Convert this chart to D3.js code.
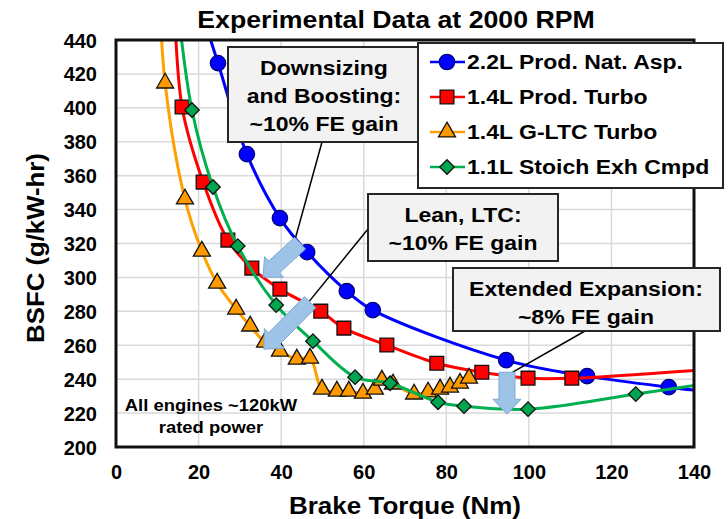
<!DOCTYPE html>
<html>
<head>
<meta charset="utf-8">
<script src="https://cdn.jsdelivr.net/npm/d3@7"></script>
<style>
    body { margin: 0; background: #fff; }
    text { font-family: "Liberation Sans", Arial, sans-serif; font-weight: bold; fill: #000; }
</style>
</head>
<body>
<div id="chart-area"></div>
<script>

// series (torque Nm, BSFC g/kW-hr)
// first / last points of some series sit outside the frame, they only steer the clipped line
const naTorque   = [19, 24.7, 31.7, 39.7, 46.3, 55.9, 62.2, 94.5, 114.1, 133.9, 150];
const naBsfc     = [470, 426.4, 372.7, 335, 314.9, 291.9, 280.7, 251.2, 241.8, 235.3, 231];

const turboTorque = [14, 16.0, 21.1, 27.1, 32.9, 39.7, 49.6, 55.2, 65.6, 77.7, 88.6, 99.8, 110.4, 150];
const turboBsfc   = [470, 400.5, 356.2, 322, 305.5, 293.1, 280.1, 270.1, 260.1, 249.4, 244.1, 240.6, 240.6, 247];

const ltcTorque = [10.5, 11.9, 16.7, 20.8, 24.5, 29.1, 32.5, 36.1, 39.7, 43.8, 47.0, 49.9, 53.5, 56.4, 59.8, 62.7, 64.4, 67.1, 72.2, 75.6, 78.5, 80.9, 83.3, 85.5];
const ltcBsfc   = [470, 414.6, 346.2, 315.5, 296.6, 281.3, 271.3, 261.8, 256.5, 251.8, 252.4, 234.1, 232.9, 232.9, 231.7, 234.1, 239.4, 237.1, 231.2, 232.4, 234.1, 235.3, 237.6, 240.6];

const stoichTorque = [14.5, 18.4, 23.5, 29.5, 38.8, 47.7, 57.9, 66.4, 78.0, 84.3, 99.8, 125.9, 150];
const stoichBsfc   = [470, 398.7, 353.3, 318.5, 283.7, 262.4, 241.2, 237.6, 226.4, 224.1, 222.3, 231.2, 240];

const seriesNames = ["2.2L Prod. Nat. Asp.", "1.4L Prod. Turbo", "1.4L G-LTC Turbo", "1.1L Stoich Exh Cmpd"];

const xTicks = [0, 20, 40, 60, 80, 100, 120, 140];
const yTicks = [200, 220, 240, 260, 280, 300, 320, 340, 360, 380, 400, 420, 440];

// callout arrows, in data units: [tailX, tailY, tipX, tipY]
const arrowSpots = [[44.6, 320.2, 35.6, 300.2], [47.0, 285.4, 35.8, 257.7], [94.7, 244.1, 94.7, 219.3]];


// the source picture is a bit wider than the font, so widen text a little
function widen(sel, factor) {
    sel.each(function() {
        let w = this.getComputedTextLength();
        d3.select(this)
            .attr("textLength", w * factor)
            .attr("lengthAdjust", "spacingAndGlyphs");
    });
}


class BsfcChart {

    constructor(parentElement) {
        this.parentElement = parentElement;
        this.initVis();
    }

    initVis() {
        let vis = this;

        vis.width = 728;
        vis.height = 519;
        vis.plot = {left: 116, right: 694, top: 40, bottom: 447};

        vis.svg = d3.select("#" + vis.parentElement).append("svg")
            .attr("width", vis.width)
            .attr("height", vis.height);

        vis.x = d3.scaleLinear().domain([0, 140]).range([vis.plot.left, vis.plot.right]);
        vis.y = d3.scaleLinear().domain([200, 440]).range([vis.plot.bottom, vis.plot.top]);

        vis.svg.append("clipPath").attr("id", "plot-clip")
            .append("rect")
            .attr("x", vis.plot.left)
            .attr("y", vis.plot.top)
            .attr("width", vis.plot.right - vis.plot.left)
            .attr("height", vis.plot.bottom - vis.plot.top);

        // grid
        let grid = vis.svg.append("g").attr("class", "grid");
        grid.selectAll(".vgrid").data(xTicks.slice(1, -1)).enter().append("line")
            .attr("x1", d => vis.x(d)).attr("x2", d => vis.x(d))
            .attr("y1", vis.plot.top).attr("y2", vis.plot.bottom)
            .attr("stroke", "#d9d9d9").attr("stroke-width", 1.5);
        grid.selectAll(".hgrid").data(yTicks.slice(1, -1)).enter().append("line")
            .attr("y1", d => vis.y(d)).attr("y2", d => vis.y(d))
            .attr("x1", vis.plot.left).attr("x2", vis.plot.right)
            .attr("stroke", "#d9d9d9").attr("stroke-width", 1.5);

        // axes (labels only, Excel style)
        vis.svg.append("g")
            .attr("transform", "translate(0," + (vis.plot.bottom + 32) + ")")
            .call(d3.axisBottom(vis.x).tickValues(xTicks).tickSize(0).tickPadding(0))
            .call(g => g.select(".domain").remove())
            .selectAll("text").attr("font-size", 20).attr("dy", 0)
            .style("font-family", "'Liberation Sans', Arial, sans-serif").style("font-weight", "bold");

        vis.svg.append("g")
            .attr("transform", "translate(" + (vis.plot.left - 19) + ",0)")
            .call(d3.axisLeft(vis.y).tickValues(yTicks).tickSize(0).tickPadding(0))
            .call(g => g.select(".domain").remove())
            .selectAll("text").attr("font-size", 20).attr("dy", "0.35em")
            .style("font-family", "'Liberation Sans', Arial, sans-serif").style("font-weight", "bold");

        vis.svg.append("text")
            .attr("x", 396).attr("y", 28)
            .attr("text-anchor", "middle").attr("font-size", 23)
            .text("Experimental  Data at 2000 RPM")
            .call(widen, 1.16);

        vis.svg.append("text")
            .attr("x", (vis.plot.left + vis.plot.right) / 2).attr("y", 514)
            .attr("text-anchor", "middle").attr("font-size", 23)
            .text("Brake Torque (Nm)")
            .call(widen, 1.13);

        vis.svg.append("text")
            .attr("transform", "translate(44,248) rotate(-90)")
            .attr("text-anchor", "middle").attr("font-size", 23)
            .text("BSFC (g/kW-hr)")
            .call(widen, 1.12);

        vis.svg.append("g")
            .attr("font-size", 16)
            .selectAll("text").data(["All engines ~120kW", "rated power"]).enter().append("text")
            .attr("x", 211).attr("y", (d, i) => 411 + i * 22)
            .attr("text-anchor", "middle")
            .text(d => d)
            .call(widen, 1.15);

        vis.chartGroup = vis.svg.append("g").attr("clip-path", "url(#plot-clip)");

        vis.line = d3.line()
            .x(d => vis.x(d.x))
            .y(d => vis.y(d.y))
            .curve(d3.curveCatmullRom.alpha(0.5));

        vis.wrangleData();
    }

    wrangleData() {
        let vis = this;

        let zipUp = (xs, ys) => xs.map((v, i) => ({x: v, y: ys[i]}));

        vis.displayData = [
            {name: seriesNames[0], color: "#0000ff", fill: "#0000ff", shape: "circle", values: zipUp(naTorque, naBsfc)},
            {name: seriesNames[1], color: "#ff0000", fill: "#ff0000", shape: "square", values: zipUp(turboTorque, turboBsfc)},
            {name: seriesNames[2], color: "#ffa000", fill: "#ff9900", shape: "triangle", values: zipUp(ltcTorque, ltcBsfc)},
            {name: seriesNames[3], color: "#00b050", fill: "#00a54f", shape: "diamond", values: zipUp(stoichTorque, stoichBsfc)}
        ];

        vis.updateVis();
    }

    markerPath(shape) {
        if (shape === "circle") return d3.symbol(d3.symbolCircle, 185)();
        if (shape === "square") return d3.symbol(d3.symbolSquare, 190)();
        if (shape === "triangle") return d3.symbol(d3.symbolTriangle, 125)();
        return d3.symbol(d3.symbolSquare, 105)();
    }

    updateVis() {
        let vis = this;

        let series = vis.chartGroup.selectAll(".series")
            .data(vis.displayData)
            .enter().append("g")
            .attr("class", "series");

        series.append("path")
            .attr("d", d => vis.line(d.values))
            .attr("fill", "none")
            .attr("stroke", d => d.color)
            .attr("stroke-width", 3);

        series.each(function(s) {
            d3.select(this).selectAll(".mark")
                .data(s.values)
                .enter().append("path")
                .attr("class", "mark")
                .attr("d", vis.markerPath(s.shape))
                .attr("transform", d => "translate(" + vis.x(d.x) + "," + vis.y(d.y) + ")" + (s.shape === "diamond" ? " rotate(45)" : ""))
                .attr("fill", s.fill)
                .attr("stroke", s.shape === "circle" ? "#00007a" : "#111")
                .attr("stroke-width", 1.3);
        });

        // frame
        vis.svg.append("rect")
            .attr("x", vis.plot.left).attr("y", vis.plot.top)
            .attr("width", vis.plot.right - vis.plot.left)
            .attr("height", vis.plot.bottom - vis.plot.top)
            .attr("fill", "none").attr("stroke", "#111").attr("stroke-width", 3);

        vis.drawCallouts();
        vis.drawLegend();
    }

    drawCallouts() {
        let vis = this;

        let leaders = [[322, 142, vis.x(43.1), vis.y(320)], [368, 229, vis.x(46.5), vis.y(285)], [585, 331, vis.x(96.1), vis.y(244.1)]];
        vis.svg.selectAll(".leader").data(leaders).enter().append("line")
            .attr("class", "leader")
            .attr("x1", d => d[0]).attr("y1", d => d[1])
            .attr("x2", d => d[2]).attr("y2", d => d[3])
            .attr("stroke", "#000").attr("stroke-width", 1.5);

        let boxes = [
            {x: 228, y: 47, w: 200, h: 95, lines: ["Downsizing", "and Boosting:", "~10% FE gain"], cx: 324},
            {x: 368, y: 194, w: 190, h: 67, lines: ["Lean, LTC:", "~10% FE gain"], cx: 463},
            {x: 453, y: 268, w: 267, h: 63, lines: ["Extended Expansion:", "~8% FE gain"], cx: 586}
        ];

        let bg = vis.svg.selectAll(".callout").data(boxes).enter().append("g").attr("class", "callout");
        bg.append("rect")
            .attr("x", d => d.x).attr("y", d => d.y)
            .attr("width", d => d.w).attr("height", d => d.h)
            .attr("fill", "#f2f2f2").attr("stroke", "#262626").attr("stroke-width", 2);
        bg.each(function(b) {
            d3.select(this).selectAll("text").data(b.lines).enter().append("text")
                .attr("x", b.cx)
                .attr("y", (t, i) => b.y + 28 + i * 28)
                .attr("text-anchor", "middle")
                .attr("font-size", 20)
                .text(t => t)
                .call(widen, 1.15);
        });

        let arrowPath = function(a) {
            let x0 = vis.x(a[0]), y0 = vis.y(a[1]), x1 = vis.x(a[2]), y1 = vis.y(a[3]);
            let len = Math.hypot(x1 - x0, y1 - y0);
            let ux = (x1 - x0) / len, uy = (y1 - y0) / len;
            let nx = -uy, ny = ux;
            let w = 8, hw = 14, hl = 15;
            let bx = x1 - ux * hl, by = y1 - uy * hl;
            let pts = [
                [x0 + nx * w, y0 + ny * w], [bx + nx * w, by + ny * w], [bx + nx * hw, by + ny * hw],
                [x1, y1],
                [bx - nx * hw, by - ny * hw], [bx - nx * w, by - ny * w], [x0 - nx * w, y0 - ny * w]
            ];
            return d3.line()(pts) + "Z";
        };

        vis.svg.selectAll(".arrow").data(arrowSpots).enter().append("path")
            .attr("class", "arrow")
            .attr("d", arrowPath)
            .attr("fill", "#9dc3e6")
            .attr("stroke", "#7fa9d4")
            .attr("stroke-width", 1);
    }

    drawLegend() {
        let vis = this;

        let legend = vis.svg.append("g").attr("class", "legend");
        legend.append("rect")
            .attr("x", 418).attr("y", 43).attr("width", 305).attr("height", 145)
            .attr("fill", "#fff").attr("stroke", "#262626").attr("stroke-width", 2);

        let rows = legend.selectAll(".row").data(vis.displayData).enter().append("g")
            .attr("class", "row")
            .attr("transform", (d, i) => "translate(0," + (62 + i * 35) + ")");

        rows.append("line")
            .attr("x1", 430).attr("x2", 465)
            .attr("stroke", d => d.color).attr("stroke-width", 2.5);
        rows.append("path")
            .attr("d", d => vis.markerPath(d.shape))
            .attr("transform", d => "translate(447,0)" + (d.shape === "diamond" ? " rotate(45)" : ""))
            .attr("fill", d => d.fill)
            .attr("stroke", d => d.shape === "circle" ? "#00007a" : "#111")
            .attr("stroke-width", 1.3);
        rows.append("text")
            .attr("x", 467).attr("y", 7)
            .attr("font-size", 20)
            .text(d => d.name)
            .call(widen, 1.15);
    }
}

new BsfcChart("chart-area");

</script>
</body>
</html>
